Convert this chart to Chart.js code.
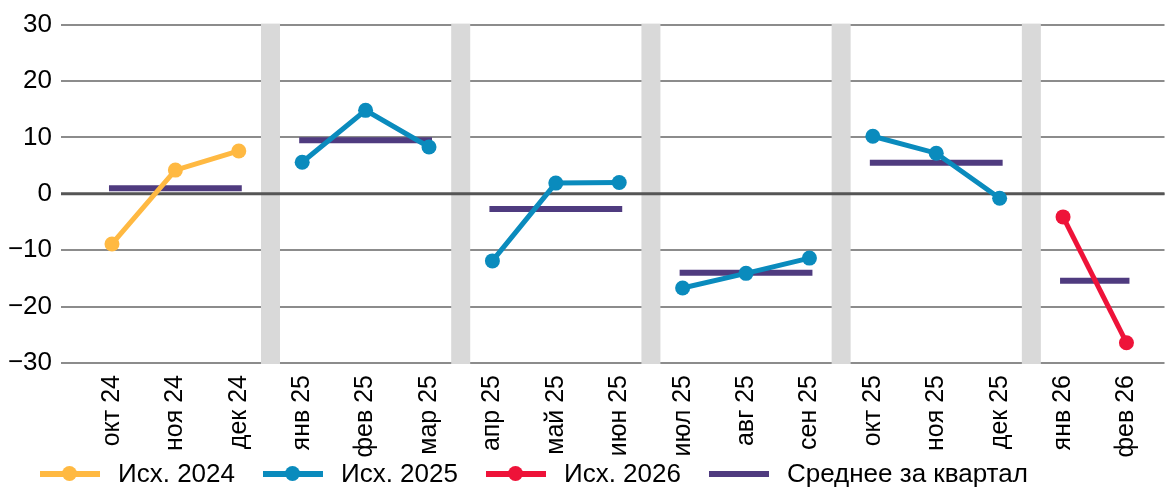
<!DOCTYPE html>
<html>
<head>
<meta charset="utf-8">
<script src="https://cdn.jsdelivr.net/npm/chart.js@4"></script>
<style>
  body { margin: 0; background: #fff; }
  #wrap { position: relative; width: 1172px; height: 487px; }
  #legend { position: absolute; left: 40px; top: 458px; display: flex; align-items: center;
            font-family: "Liberation Sans", Arial, sans-serif; font-size: 26px; color: #000; }
  .item { display: flex; align-items: center; margin-right: 28px; }
  .sw { position: relative; width: 60px; height: 6px; margin-right: 18px; }
  .dot { position: absolute; left: 22px; top: -4.5px; width: 15px; height: 15px; border-radius: 50%; }
</style>
</head>
<body>
<div id="wrap">
  <canvas id="myChart" width="1172" height="487"></canvas>
  <div id="legend"></div>
</div>
<script>
var months = ["окт 24", "ноя 24", "дек 24", "янв 25", "фев 25", "мар 25", "апр 25", "май 25", "июн 25",
              "июл 25", "авг 25", "сен 25", "окт 25", "ноя 25", "дек 25", "янв 26", "фев 26"];
var s2024 = [-8.9, 4.2, 7.6, null, null, null, null, null, null, null, null, null, null, null, null, null, null];
var s2025 = [null, null, null, 5.6, 14.8, 8.3, -11.9, 1.9, 2.0, -16.7, -14.1, -11.4, 10.2, 7.2, -0.8, null, null];
var s2026 = [null, null, null, null, null, null, null, null, null, null, null, null, null, null, null, -4.1, -26.4];
var quarterAvg = [1.0, 9.5, -2.7, -14.0, 5.5, -15.4];
var yTicks = [-30, -20, -10, 0, 10, 20, 30];

var FONT = "'Liberation Sans', Arial, sans-serif";

function q(i) { return Math.floor(i / 3); }

function toPoints(arr) {
  var out = [];
  arr.forEach(function (v, i) { if (v !== null) out.push({ x: i, y: v }); });
  return out;
}

var avgPoints = months.map(function (m, i) { return { x: i, y: quarterAvg[q(i)] }; });

// hide segments that cross a quarter boundary
var skipQuarter = {
  borderColor: function (ctx) {
    return q(ctx.p0.parsed.x) === q(ctx.p1.parsed.x) ? undefined : 'rgba(0,0,0,0)';
  }
};

function series(label, color, arr) {
  return {
    label: label, data: toPoints(arr), borderColor: color, backgroundColor: color,
    borderWidth: 5, pointRadius: 7.5, pointHoverRadius: 7.5, pointBorderWidth: 0,
    pointBackgroundColor: color, segment: skipQuarter
  };
}

var separators = {
  id: 'separators',
  beforeDatasetsDraw: function (chart) {
    var ctx = chart.ctx, a = chart.chartArea, x = chart.scales.x, y = chart.scales.y;
    ctx.save();
    ctx.fillStyle = '#d9d9d9';
    for (var i = 3; i < months.length; i += 3) {
      var px = x.getPixelForValue(i - 0.5);
      ctx.fillRect(px - 9.5, a.top - 1, 19, a.bottom - a.top + 2);
    }
    var py = y.getPixelForValue(0);
    ctx.strokeStyle = '#555555';
    ctx.lineWidth = 3;
    ctx.beginPath();
    ctx.moveTo(a.left, py);
    ctx.lineTo(a.right, py);
    ctx.stroke();
    ctx.restore();
  }
};

var chart = new Chart("myChart", {
  type: 'line',
  data: {
    datasets: [
      series("Исх. 2024", "#ffb942", s2024),
      series("Исх. 2025", "#0a8bbd", s2025),
      series("Исх. 2026", "#ee1339", s2026),
      {
        label: "Среднее за квартал", data: avgPoints, borderColor: "#4f3b7f",
        backgroundColor: "#4f3b7f", borderWidth: 6, pointRadius: 0, pointHoverRadius: 0,
        borderCapStyle: 'square', segment: skipQuarter
      }
    ]
  },
  options: {
    responsive: false,
    animation: false,
    layout: { padding: { top: 24, right: 0, bottom: 0, left: 0 } },
    plugins: { legend: { display: false }, tooltip: { enabled: false } },
    scales: {
      x: {
        type: 'linear', min: -0.804, max: 16.6,
        afterBuildTicks: function (axis) { axis.ticks = months.map(function (m, i) { return { value: i }; }); },
        afterFit: function (axis) { axis.height = 124; },
        grid: { display: false, drawTicks: false },
        border: { display: false },
        ticks: {
          autoSkip: false, minRotation: 90, maxRotation: 90, padding: 12, color: '#000',
          font: { family: FONT, size: 25 },
          callback: function (v) { return months[v]; }
        }
      },
      y: {
        min: -30, max: 30,
        afterBuildTicks: function (axis) { axis.ticks = yTicks.map(function (v) { return { value: v }; }); },
        afterFit: function (axis) { axis.width = 61; },
        grid: { color: '#8c8c8c', lineWidth: 2, drawTicks: false },
        border: { display: false },
        ticks: {
          padding: 9, color: '#000', font: { family: FONT, size: 26 },
          callback: function (v) { return String(v).replace('-', '\u2212'); }
        }
      }
    }
  },
  plugins: [separators]
});

// legend
var lg = document.getElementById('legend');
chart.data.datasets.forEach(function (ds, i) {
  var item = document.createElement('div'); item.className = 'item';
  var sw = document.createElement('div'); sw.className = 'sw'; sw.style.background = ds.borderColor;
  if (i < 3) {
    var d = document.createElement('div'); d.className = 'dot'; d.style.background = ds.borderColor;
    sw.appendChild(d);
  }
  var t = document.createElement('span'); t.textContent = ds.label;
  item.appendChild(sw); item.appendChild(t); lg.appendChild(item);
});
</script>
</body>
</html>
